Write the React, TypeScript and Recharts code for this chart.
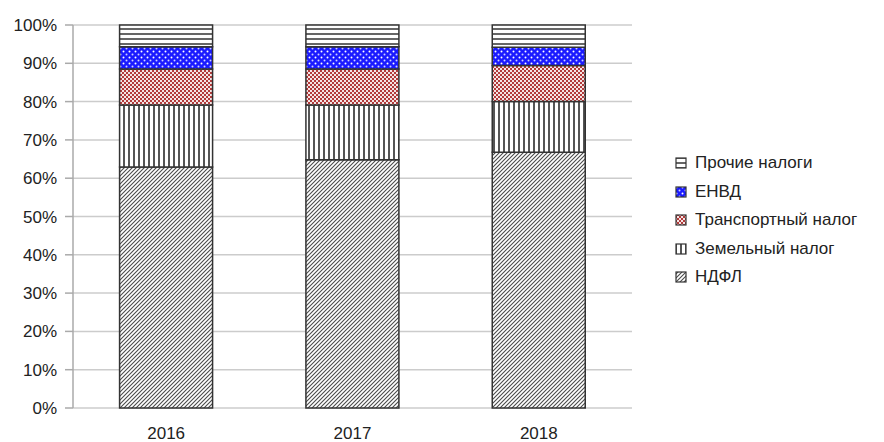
import React from 'react';
import { BarChart, Bar, XAxis, YAxis, CartesianGrid, Legend } from 'recharts';

const years = ['2016', '2017', '2018'];
const ndfl = [62.9, 64.8, 66.8];
const zemel = [16.2, 14.3, 13.2];
const transport = [9.4, 9.4, 9.4];
const envd = [5.8, 5.8, 4.8];
const other = [5.7, 5.7, 5.8];
const yTicks = [0, 10, 20, 30, 40, 50, 60, 70, 80, 90, 100];
const boundaryTicks = [0, 1, 2, 3];

const seriesNames = {
  ndfl: 'НДФЛ',
  zemel: 'Земельный налог',
  transport: 'Транспортный налог',
  envd: 'ЕНВД',
  other: 'Прочие налоги',
};

const data = years.map((y, i) => ({
  year: y,
  ndfl: ndfl[i],
  zemel: zemel[i],
  transport: transport[i],
  envd: envd[i],
  other: other[i],
}));

const FONT = '"Liberation Sans", Arial, sans-serif';
const FS = 17;

function Patterns({ prefix }: { prefix: string }) {
  return (
    <defs>
      <pattern id={`${prefix}-ndfl`} width="4" height="4" patternUnits="userSpaceOnUse">
        <rect width="4" height="4" fill="#ffffff" />
        <path d="M-1,1 l2,-2 M0,4 l4,-4 M3,5 l2,-2" stroke="#4a4a4a" strokeWidth="1.1" />
      </pattern>
      <pattern id={`${prefix}-zemel`} width="5" height="5" patternUnits="userSpaceOnUse">
        <rect width="5" height="5" fill="#ffffff" />
        <rect x="0" y="0" width="2" height="5" fill="#555555" />
      </pattern>
      <pattern id={`${prefix}-transport`} width="4" height="4" patternUnits="userSpaceOnUse">
        <rect width="4" height="4" fill="#b23a3a" />
        <rect x="0" y="0" width="2" height="2" fill="#f4e4e4" />
        <rect x="2" y="2" width="2" height="2" fill="#f4e4e4" />
      </pattern>
      <pattern id={`${prefix}-envd`} width="6" height="6" patternUnits="userSpaceOnUse">
        <rect width="6" height="6" fill="#1a1aff" />
        <circle cx="1.5" cy="1.5" r="1" fill="#ffffff" />
        <circle cx="4.5" cy="4.5" r="1" fill="#d0d0ff" />
      </pattern>
      <pattern id={`${prefix}-other`} width="5" height="5" patternUnits="userSpaceOnUse">
        <rect width="5" height="5" fill="#ffffff" />
        <rect x="0" y="0" width="5" height="2" fill="#666666" />
      </pattern>
    </defs>
  );
}

const legendOrder = ['other', 'envd', 'transport', 'zemel', 'ndfl'] as const;

function LegendContent() {
  return (
    <div style={{ fontFamily: FONT, fontSize: FS, color: '#222', whiteSpace: 'nowrap' }}>
      {legendOrder.map((k) => (
        <div key={k} style={{ display: 'flex', alignItems: 'center', height: 28.5 }}>
          <svg width="12" height="12" style={{ marginRight: 8, flexShrink: 0 }}>
            <Patterns prefix={`lg-${k}`} />
            <rect x="1" y="1" width="10" height="10" fill={`url(#lg-${k}-${k})`} stroke="#333" strokeWidth="1.2" />
          </svg>
          <span>{seriesNames[k]}</span>
        </div>
      ))}
    </div>
  );
}

export default function App() {
  const tickStyle = { fontFamily: FONT, fontSize: FS, fill: '#222' };
  return (
    <BarChart
      width={884}
      height={442}
      data={data}
      margin={{ top: 17, right: 260, bottom: 12, left: 0 }}
      barCategoryGap="25%"
    >
      <Patterns prefix="bar" />
      <CartesianGrid vertical={false} stroke="#cccccc" strokeWidth={1.5} />
      <XAxis
        xAxisId="bounds"
        type="number"
        domain={[0, 3]}
        ticks={boundaryTicks}
        height={0}
        tick={false}
        tickSize={8}
        tickLine={{ stroke: '#aaaaaa', strokeWidth: 1.5 }}
        axisLine={{ stroke: '#aaaaaa', strokeWidth: 1.5 }}
        allowDataOverflow
      />
      <XAxis
        dataKey="year"
        height={30}
        tickSize={0}
        tickMargin={19}
        tickLine={false}
        axisLine={false}
        tick={tickStyle}
      />
      <YAxis
        domain={[0, 100]}
        ticks={yTicks}
        width={65}
        tickSize={8}
        tickMargin={8}
        tickFormatter={(v: number) => `${v}%`}
        tick={tickStyle}
        tickLine={{ stroke: '#aaaaaa', strokeWidth: 1.5 }}
        axisLine={{ stroke: '#aaaaaa', strokeWidth: 1.5 }}
        interval={0}
      />
      <YAxis
        yAxisId="right"
        orientation="right"
        domain={[0, 100]}
        width={0}
        tick={false}
        tickLine={false}
        axisLine={{ stroke: '#bbbbbb', strokeWidth: 1.5 }}
      />
      <Legend
        layout="vertical"
        align="center"
        verticalAlign="middle"
        wrapperStyle={{ left: 667, top: 141, width: 209 }}
        content={() => <LegendContent />}
      />
      <Bar dataKey="ndfl" name={seriesNames.ndfl} stackId="a" fill="url(#bar-ndfl)" stroke="#333" strokeWidth={1.5} isAnimationActive={false} />
      <Bar dataKey="zemel" name={seriesNames.zemel} stackId="a" fill="url(#bar-zemel)" stroke="#333" strokeWidth={1.5} isAnimationActive={false} />
      <Bar dataKey="transport" name={seriesNames.transport} stackId="a" fill="url(#bar-transport)" stroke="#333" strokeWidth={1.5} isAnimationActive={false} />
      <Bar dataKey="envd" name={seriesNames.envd} stackId="a" fill="url(#bar-envd)" stroke="#333" strokeWidth={1.5} isAnimationActive={false} />
      <Bar dataKey="other" name={seriesNames.other} stackId="a" fill="url(#bar-other)" stroke="#333" strokeWidth={1.5} isAnimationActive={false} />
    </BarChart>
  );
}
